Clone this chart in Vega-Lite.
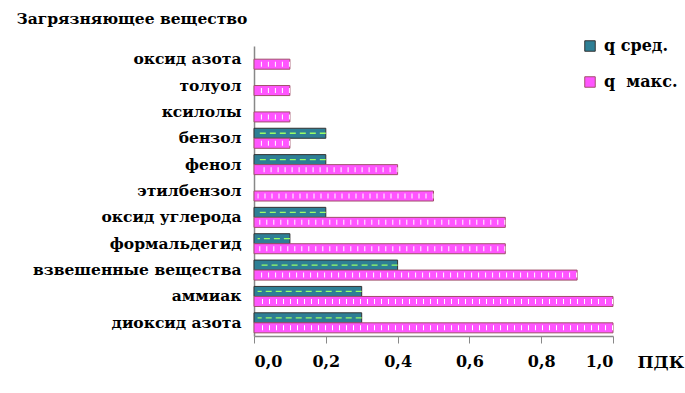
{
  "$schema": "https://vega.github.io/schema/vega-lite/v6.json",
  "width": 359,
  "height": 290,
  "autosize": "none",
  "padding": {"left": 254, "top": 46, "right": 72, "bottom": 57},
  "background": "white",
  "config": {"view": {"stroke": null}, "font": "DejaVu Serif"},
  "data": {
    "values": [
      {"name": "оксид азота", "series": "q\u00a0 макс.", "value": 0.1},
      {"name": "толуол", "series": "q\u00a0 макс.", "value": 0.1},
      {"name": "ксилолы", "series": "q\u00a0 макс.", "value": 0.1},
      {"name": "бензол", "series": "q сред.", "value": 0.2},
      {"name": "бензол", "series": "q\u00a0 макс.", "value": 0.1},
      {"name": "фенол", "series": "q сред.", "value": 0.2},
      {"name": "фенол", "series": "q\u00a0 макс.", "value": 0.4},
      {"name": "этилбензол", "series": "q\u00a0 макс.", "value": 0.5},
      {"name": "оксид углерода", "series": "q сред.", "value": 0.2},
      {"name": "оксид углерода", "series": "q\u00a0 макс.", "value": 0.7},
      {"name": "формальдегид", "series": "q сред.", "value": 0.1},
      {"name": "формальдегид", "series": "q\u00a0 макс.", "value": 0.7},
      {"name": "взвешенные вещества", "series": "q сред.", "value": 0.4},
      {"name": "взвешенные вещества", "series": "q\u00a0 макс.", "value": 0.9},
      {"name": "аммиак", "series": "q сред.", "value": 0.3},
      {"name": "аммиак", "series": "q\u00a0 макс.", "value": 1.0},
      {"name": "диоксид азота", "series": "q сред.", "value": 0.3},
      {"name": "диоксид азота", "series": "q\u00a0 макс.", "value": 1.0}
    ]
  },
  "encoding": {
    "y": {
      "field": "name",
      "type": "nominal",
      "sort": ["оксид азота", "толуол", "ксилолы", "бензол", "фенол", "этилбензол", "оксид углерода", "формальдегид", "взвешенные вещества", "аммиак", "диоксид азота"],
      "scale": {"paddingInner": 0.24, "paddingOuter": 0.12},
      "axis": {
        "title": "Загрязняющее вещество",
        "titleFont": "DejaVu Serif",
        "titleAngle": 0,
        "titleAlign": "left",
        "titleBaseline": "middle",
        "titleX": -238,
        "titleY": -28,
        "titleFontSize": 15.5,
        "titleFontWeight": "bold",
        "titleColor": "black",
        "labelFont": "DejaVu Serif",
        "labelFontSize": 15.5,
        "labelFontWeight": "bold",
        "labelColor": "black",
        "labelPadding": 13,
        "labelLimit": 400,
        "ticks": false,
        "domainColor": "#888888",
        "domainWidth": 1.5
      }
    },
    "yOffset": {"field": "series", "type": "nominal", "sort": ["q сред.", "q\u00a0 макс."], "scale": {"paddingInner": 0, "paddingOuter": 0}}
  },
  "layer": [
    {
      "mark": {"type": "bar", "strokeWidth": 1},
      "encoding": {
        "x": {
          "field": "value",
          "type": "quantitative",
          "scale": {"domain": [0, 1]},
          "axis": {
            "values": [0, 0.2, 0.4, 0.6, 0.8, 1.0],
            "labelExpr": "replace(format(datum.value, '.1f'), '.', ',')",
            "grid": false,
            "labelFont": "DejaVu Serif",
            "labelFontSize": 16,
            "labelFontWeight": "bold",
            "labelColor": "black",
            "labelPadding": 10,
            "tickColor": "#888888",
            "tickSize": 7,
            "domainColor": "#888888",
            "domainWidth": 1.5,
            "title": "ПДК",
            "titleFont": "DejaVu Serif",
            "titleFontSize": 17,
            "titleFontWeight": "bold",
            "titleColor": "black",
            "titleAlign": "left",
            "titleBaseline": "middle",
            "titleX": 383,
            "titleY": 26
          }
        },
        "fill": {
          "field": "series",
          "type": "nominal",
          "sort": ["q сред.", "q\u00a0 макс."],
          "scale": {"domain": ["q сред.", "q\u00a0 макс."], "range": ["#2e7f95", "#ff55ff"]},
          "legend": {
            "orient": "none",
            "legendX": 328,
            "legendY": -8,
            "title": null,
            "symbolType": "square",
            "symbolSize": 110,
            "symbolStrokeWidth": 1,
            "labelFont": "DejaVu Serif",
            "labelFontSize": 16,
            "labelFontWeight": "bold",
            "labelColor": "black",
            "labelOffset": 6,
            "rowPadding": 20
          }
        },
        "stroke": {
          "field": "series",
          "type": "nominal",
          "sort": ["q сред.", "q\u00a0 макс."],
          "scale": {"domain": ["q сред.", "q\u00a0 макс."], "range": ["#333333", "#a0506a"]},
          "legend": null
        }
      }
    },
    {
      "transform": [{"filter": "datum.series === 'q сред.'"}],
      "mark": {"type": "rule", "color": "#99ff66", "strokeDash": [6, 4], "strokeWidth": 1.3},
      "encoding": {
        "x": {"field": "value", "type": "quantitative"},
        "x2": {"datum": 0.01}
      }
    },
    {
      "transform": [{"filter": "datum.series !== 'q сред.'"}],
      "mark": {"type": "rule", "color": "white", "strokeDash": [1, 6], "strokeWidth": 5},
      "encoding": {
        "x": {"field": "value", "type": "quantitative"},
        "x2": {"datum": 0.01}
      }
    }
  ]
}
